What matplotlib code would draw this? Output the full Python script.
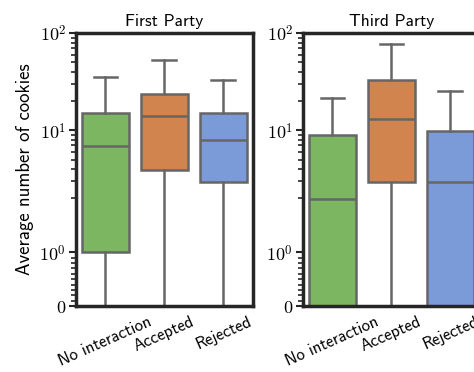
import numpy as np
import matplotlib
matplotlib.use('Agg')
import matplotlib.pyplot as plt

plt.rcParams['font.family'] = ['cmss10', 'DejaVu Sans']
plt.rcParams['mathtext.fontset'] = 'cm'
plt.rcParams['axes.unicode_minus'] = False

categories = ['No interaction', 'Accepted', 'Rejected']
colors = ['#7db661', '#d2844e', '#7b9ad8']
panels = ['First Party', 'Third Party']

# box statistics: lower whisker, q1, median, q3, upper whisker
whislo = {'First Party': [0, 0, 0], 'Third Party': [0, 0, 0]}
q1 = {'First Party': [1.0, 3.9, 2.95], 'Third Party': [0, 2.97, 0]}
med = {'First Party': [6.97, 14.0, 7.85], 'Third Party': [1.99, 13.1, 2.97]}
q3 = {'First Party': [14.9, 23.9, 14.9], 'Third Party': [8.96, 32.7, 9.85]}
whishi = {'First Party': [35.7, 53.5, 32.7], 'Third Party': [21.7, 78.0, 25.1]}

yticks = [0, 1, 10, 100]
yticklabels = ['$0$', '$10^0$', '$10^1$', '$10^2$']
minor = list(np.arange(0.1, 1.0, 0.1)) + list(np.arange(2, 10)) + list(np.arange(20, 100, 10))

fig = plt.figure(figsize=(4.74, 3.72), dpi=100)
lefts = [0.160, 0.639]
edge = '#666666'

for i, name in enumerate(panels):
    ax = fig.add_axes([lefts[i], 0.177, 0.373, 0.734])
    stats = []
    for j in range(3):
        stats.append({'whislo': whislo[name][j], 'q1': q1[name][j], 'med': med[name][j],
                      'q3': q3[name][j], 'whishi': whishi[name][j], 'fliers': []})
    bp = ax.bxp(stats, positions=range(3), widths=0.8, patch_artist=True,
                showfliers=False,
                boxprops=dict(edgecolor=edge, linewidth=1.8),
                medianprops=dict(color=edge, linewidth=1.8),
                whiskerprops=dict(color=edge, linewidth=1.8),
                capprops=dict(color=edge, linewidth=1.8),
                capwidths=0.4)
    for patch, c in zip(bp['boxes'], colors):
        patch.set_facecolor(c)
    ax.set_yscale('symlog', linthresh=2)
    ax.set_ylim(0, 100)
    ax.set_xlim(-0.5, 2.5)
    ax.set_yticks(yticks)
    ax.set_yticklabels(yticklabels, fontsize=13)
    ax.set_yticks(minor, minor=True)
    ax.set_xticks(range(3))
    ax.set_xticklabels(categories, rotation=24, ha='center', fontsize=12)
    ax.tick_params(axis='x', length=0, pad=6)
    ax.tick_params(axis='y', which='major', length=5, width=1.5, color='#262626', pad=2)
    ax.tick_params(axis='y', which='minor', length=3.5, width=1.2, color='#262626')
    for s in ax.spines.values():
        s.set_linewidth(2.5)
        s.set_color('#262626')
    ax.set_title(name, fontsize=12.5, pad=5)
    if i == 0:
        ax.set_ylabel('Average number of cookies', fontsize=13.5, labelpad=4)

fig.savefig('out.png', dpi=100)
